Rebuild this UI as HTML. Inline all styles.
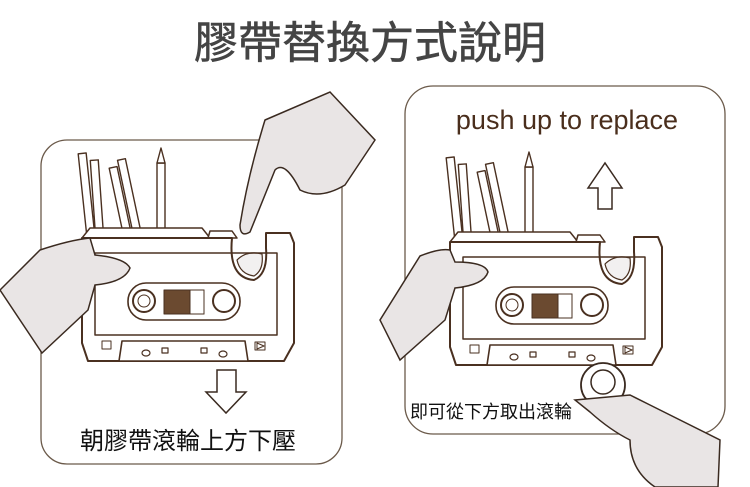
<!DOCTYPE html>
<html><head><meta charset="utf-8"><style>
html,body{margin:0;padding:0;background:#fff;}
svg{display:block;}
text{font-family:"Liberation Sans","Noto Sans CJK TC",sans-serif;}
</style></head><body>
<svg width="750" height="487" viewBox="0 0 750 487" xmlns="http://www.w3.org/2000/svg">
<text x="370" y="58" text-anchor="middle" font-size="44" fill="#444" stroke="#444" stroke-width="0.6" font-family="'Noto Sans CJK TC',sans-serif">膠帶替換方式說明</text>

<rect x="41" y="140" width="301" height="324" rx="26" fill="none" stroke="#6b5a4a" stroke-width="1.3"/>
<rect x="405" y="86" width="320" height="348" rx="28" fill="none" stroke="#6b5a4a" stroke-width="1.3"/>

<defs>
<g id="cas" stroke="#4a3020" stroke-width="2" fill="#fff" stroke-linejoin="round">
  <g stroke-width="1.4">
    <rect x="4" y="-75" width="8" height="80" transform="rotate(-6 8 0)"/>
    <rect x="13" y="-68" width="8" height="73" transform="rotate(-4 17 0)"/>
    <rect x="40" y="-62" width="8" height="68" transform="rotate(-12 44 0)"/>
    <rect x="50" y="-70" width="8" height="76" transform="rotate(-12 54 0)"/>
    <rect x="75" y="-65" width="8" height="70"/>
    <path d="M75 -65 L79 -80 L83 -65 Z"/>
  </g>
  <path d="M0 10 L8 0 L120 0 L128 10 Z" stroke-width="1.5"/>
  <path d="M126 10 L128 3 L150 3 L155 10 Z" stroke-width="1.5"/>
  <path d="M0 10 L150 10 Q146 50 172 52 Q186 46 184 20 L184 5 L208 5 L212 15 L212 115 L202 133 L6 133 L0 115 Z"/>
  <path d="M155 32 Q165 22 180 26 Q182 42 172 48 Q158 46 155 32 Z" fill="#f2f0f0" stroke-width="1.2"/>
  <rect x="13" y="25" width="182" height="82" fill="none" stroke-width="1.5"/>
  <rect x="46" y="55" width="112" height="37" rx="18" stroke-width="1.6"/>
  <circle cx="62" cy="73" r="11"/>
  <circle cx="62" cy="73" r="6" stroke-width="1"/>
  <rect x="82" y="62" width="40" height="24" fill="#6b4a30" stroke-width="1"/>
  <rect x="108" y="62" width="14" height="24" fill="#fff" stroke-width="1"/>
  <circle cx="142" cy="73" r="11"/>
  <path d="M40 113 L163 113 L166 133 L37 133 Z" stroke-width="1.6"/>
  <rect x="20" y="113" width="9" height="8" stroke-width="1"/>
  <path d="M173 114 L183 114 L183 122 L173 122 Z M175 115 L182 118 L175 121 Z" stroke-width="1"/>
  <ellipse cx="64" cy="125" rx="4" ry="3" stroke-width="1.2"/>
  <rect x="80" y="120" width="6" height="5" stroke-width="1.2"/>
  <rect x="119" y="120" width="6" height="5" stroke-width="1.2"/>
  <ellipse cx="141" cy="126" rx="4" ry="3" stroke-width="1.2"/>
</g>
</defs>

<use href="#cas" x="82" y="228"/>
<path d="M0 290 L40 250 Q70 240 90 238 L95 255 Q125 258 130 268 Q125 282 95 285 L88 310 L42 353 Z" fill="#e9e5e5" stroke="#3a2a20" stroke-width="1.5"/>
<path d="M265 120 L330 92 L375 140 L345 185 Q320 200 300 190 Q285 160 275 170 L250 232 Q240 238 240 225 Q248 175 265 120 Z" fill="#e9e5e5" stroke="#3a2a20" stroke-width="1.5"/>
<path d="M217 370 L236 370 L236 392 L246 392 L226 413 L206 392 L217 392 Z" fill="#fff" stroke="#3a2a20" stroke-width="1.5"/>
<text x="188" y="449" text-anchor="middle" font-size="24" fill="#111">朝膠帶滾輪上方下壓</text>

<text x="567" y="129" text-anchor="middle" font-size="27" fill="#4a2e1c">push up to replace</text>
<use href="#cas" x="450" y="232"/>
<path d="M380 320 L420 256 Q440 248 450 250 L455 262 Q485 262 488 272 Q484 285 455 288 L445 320 L400 360 Z" fill="#e9e5e5" stroke="#3a2a20" stroke-width="1.5"/>
<circle cx="603" cy="385" r="22" fill="#fff" stroke="#3a2a20" stroke-width="1.8"/>
<circle cx="603" cy="382" r="12" fill="#fff" stroke="#3a2a20" stroke-width="1.5"/>
<path d="M575 400 L630 395 L650 405 L720 440 L718 487 L655 487 Q630 470 630 440 Q610 430 590 412 Z" fill="#e9e5e5" stroke="#3a2a20" stroke-width="1.5"/>
<path d="M598 209 L598 188 L588 188 L605 163 L622 188 L612 188 L612 209 Z" fill="#fff" stroke="#3a2a20" stroke-width="1.5"/>
<text x="410" y="418" font-size="18" fill="#111">即可從下方取出滾輪</text>
</svg>
</body></html>
